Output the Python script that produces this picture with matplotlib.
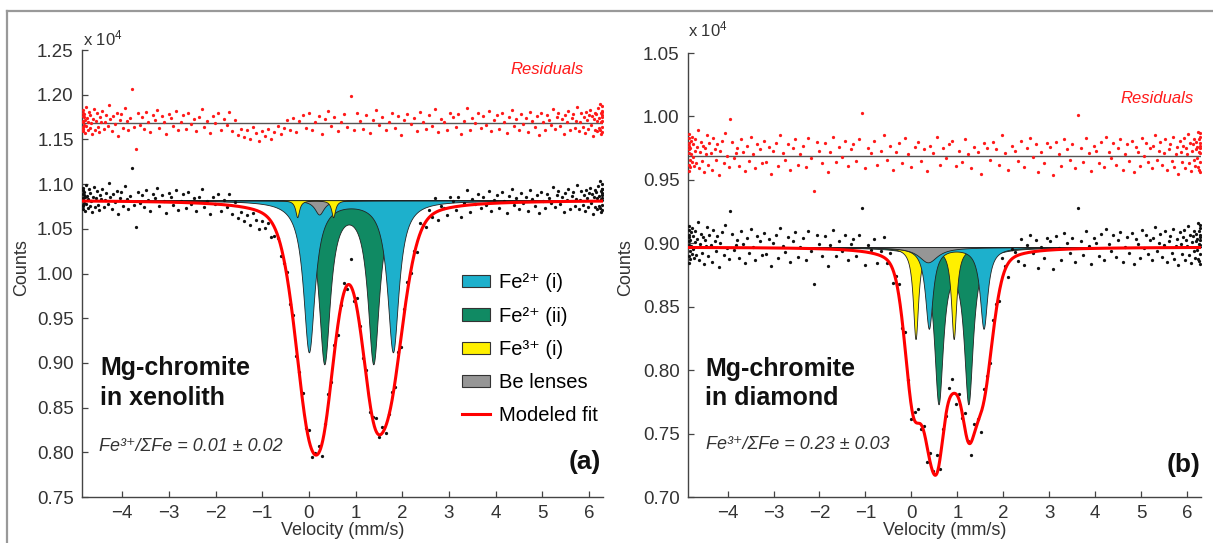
import numpy as np
import matplotlib.pyplot as plt
from matplotlib.patches import Patch
from matplotlib.lines import Line2D

plt.rcParams['font.family'] = ['Liberation Sans', 'DejaVu Sans']
plt.rcParams['mathtext.fontset'] = 'custom'
plt.rcParams['mathtext.rm'] = 'Liberation Sans'
plt.rcParams['mathtext.it'] = 'Liberation Sans:italic'
plt.rcParams['mathtext.bf'] = 'Liberation Sans:bold'

# velocity range of the drive (mm/s) and number of channels
v_lo, v_hi = -4.86, 6.30
n_chan = 256

# residuals (data - fit), in units of 0.001 x 10^4 counts, one per channel
res_a = [8, -4, 12, 3, -9, 15, 1, -6, 10, -2, 7, -11, 4, 18, -3, 6,
         -8, 2, 13, -5, 9, 0, -12, 5, 16, -7, 3, 11, -4, -10, 7, 2,
         14, -6, 1, 9, -3, 20, 5, -9, 8, -1, 12, -14, 4, 10, -5, 17,
         3, -8, 6, 38, -4, -29, 11, -2, 7, -6, 13, 2, -10, 9, 4, 15,
         -5, 8, 1, -12, 10, 6, -3, 14, -8, 2, 9, -6, 12, -1, 5, -9,
         7, 16, -4, 3, -11, 8, 0, 11, -7, 5, -2, 13, -9, 4, -13, -6,
         -15, -8, -18, -4, -11, -20, -9, -14, -6, -17, -10, -3, -12, -5, 4, -8,
         6, -10, 3, 9, -5, 11, -7, 2, 8, -12, 5, 14, -3, 7, -9, 1,
         10, -4, 30, -8, 12, 3, -6, 9, -11, 4, 15, -2, 7, -7, 2, 11,
         -5, 8, -13, 4, 10, -1, 6, -9, 13, 2, -6, 9, -3, 16, -10, 5,
         1, -7, 12, 7, -4, 10, -12, 3, 17, -8, 6, 0, 11, -5, 8, -2,
         14, -9, 4, 9, -6, 12, 2, -11, 7, 15, -3, 5, -8, 10, -1, 6,
         -10, 13, 3, -4, 8, -13, 11, 1, -7, 9, 4, -2, 16, -6, 7, 12,
         -3, 5, -12, 9, 2, 14, -8, 6, 10, -5, 3, 18, -9, 1, 11, -4,
         7, -11, 13, 4, -6, 9, 15, -2, 8, -14, 5, 12, -7, 10, 3, -9,
         17, -5, 6, 22, -8, 11, 2, -12, 14, 9, -4, 19, -10, 7, 13, 3]
res_b = [5, 14, -7, 10, 2, -12, 8, 17, -3, 6, -9, 12, 1, -5, 15, -1,
         9, -8, 4, 13, -6, 7, 20, -10, 3, 11, -4, 8, -13, 6, 1, 16,
         -7, 10, 2, -11, 14, 5, -3, 9, -15, 4, 12, -6, 18, 0, -9, 29,
         11, -2, 2, 6, -8, 13, 3, -12, 8, -4, 15, 1, -10, 9, 5, -6,
         12, -5, 7, -14, 4, 10, -8, 16, 2, -3, 9, -11, 6, 13, -7, 1,
         8, -9, 14, -2, -28, 11, 4, -6, 10, -13, 3, 15, -5, 7, -1, 12,
         -8, 5, 9, -4, 13, 34, -10, 6, 2, 12, -7, 4, 16, -3, 8, -11,
         3, 10, -6, 14, 1, -9, 7, 11, -4, 5, -12, 8, 2, 15, -7, 6,
         -2, 9, 12, -8, 4, -5, 13, 1, -10, 7, 3, -14, 10, 6, -3, 11,
         5, -7, 16, 2, -11, 8, 4, -4, 12, -9, 6, 14, -1, 9, -13, 3,
         -6, 10, 7, -15, 11, 1, -8, 13, 5, -3, 9, -10, 32, 6, -5, 14,
         2, -12, 8, 4, -6, 11, -9, 15, 3, -2, 10, -7, 6, 13, -11, 1,
         9, -4, 12, -13, 7, 3, -8, 14, 0, 10, -5, 6, -10, 8, 16, -3,
         4, 11, -7, 2, 13, -11, 5, 9, -4, 15, -9, 1, 7, -14, 12, 3,
         -5, 8, 14, -10, 6, 1, 17, -6, 10, -12, 4, 9, -3, 13, -8, 5,
         11, -2, 7, 19, -9, 13, 3, -11, 8, 15, -5, 10, -13, 6, 18, 2]

# baselines (x 10^4 counts)
base_a, resline_a = 1.082, 1.168
base_b, resline_b = 0.897, 0.969

# modeled fit lines: centre (mm/s), depth, FWHM
fit_a_pos = [-0.05, 0.32, 1.38, 1.78]
fit_a_depth = [0.174, 0.170, 0.174, 0.150]
fit_a_fwhm = [0.72, 0.68, 0.68, 0.72]
fit_b_pos = [0.04, 0.38, 0.58, 0.92, 1.24, 1.57]
fit_b_depth = [0.110, 0.072, 0.113, 0.060, 0.102, 0.098]
fit_b_fwhm = [0.45, 0.42, 0.42, 0.42, 0.40, 0.50]

# sub-spectra: centres, depth, half width
a_fe2i = ([0.00, 1.80], 0.169, 0.15)
a_fe2ii = ([0.33, 1.38], 0.180, 0.15)
a_fe3 = ([-0.25, 0.52], 0.019, 0.05)
a_be = ([0.22], 0.016, 0.12)
b_fe2i = ([0.38, 1.57], 0.064, 0.10)
b_fe2ii = ([0.59, 1.24], 0.120, 0.12)
b_fe3 = ([0.09, 0.92], 0.072, 0.07)
b_be = ([0.36], 0.012, 0.25)

c_fe2i = '#1DB0CC'
c_fe2ii = '#108A63'
c_fe3 = '#FFF000'
c_be = '#969696'


def lorentz(v, comp):
    pos, depth, hw = comp
    out = np.zeros_like(v)
    for c in pos:
        out += depth * hw**2 / (hw**2 + (v - c)**2)
    return out


def fit_curve(v, base, pos, depth, fwhm, eta=0.35):
    out = np.full_like(v, base)
    for c, d, w in zip(pos, depth, fwhm):
        x = v - c
        out -= d * (eta / (1 + (2 * x / w)**2) + (1 - eta) * np.exp(-4 * np.log(2) * x**2 / w**2))
    return out


theta = np.linspace(-np.pi / 2, np.pi / 2, n_chan)
v_chan = (v_lo + v_hi) / 2 + (v_hi - v_lo) / 2 * 0.998 * np.sin(theta)
v_fine = np.linspace(v_lo, v_hi, 3000)

fig = plt.figure(figsize=(12.13, 5.43), dpi=100)
W, H = 1213, 543
ax_a = fig.add_axes([82 / W, 1 - 497 / H, (603 - 82) / W, (497 - 50) / H])
ax_b = fig.add_axes([688 / W, 1 - 497 / H, (1201 - 688) / W, (497 - 53) / H])

panels = [
    (ax_a, res_a, base_a, resline_a, fit_a_pos, fit_a_depth, fit_a_fwhm,
     [(a_fe2ii, c_fe2ii), (a_fe2i, c_fe2i), (a_be, c_be), (a_fe3, c_fe3)],
     (0.75, 1.25)),
    (ax_b, res_b, base_b, resline_b, fit_b_pos, fit_b_depth, fit_b_fwhm,
     [(b_fe2ii, c_fe2ii), (b_fe3, c_fe3), (b_fe2i, c_fe2i), (b_be, c_be)],
     (0.70, 1.05)),
]

for ax, res, base, resline, fpos, fdep, fw, comps, ylim in panels:
    r = np.array(res) / 1000.0
    for comp, col in comps:
        ax.fill_between(v_fine, base, base - lorentz(v_fine, comp),
                        facecolor=col, edgecolor='#222222', lw=0.6, zorder=2)
    ax.axhline(resline, color='#555555', lw=1.0, zorder=2)
    ax.scatter(v_chan, resline + r, s=5.5, color='#FF1A1A', lw=0, zorder=3)
    ax.scatter(v_chan, fit_curve(v_chan, base, fpos, fdep, fw) + r, s=5.5,
               color='#111111', lw=0, zorder=3)
    ax.plot(v_fine, fit_curve(v_fine, base, fpos, fdep, fw), color='#FF0000',
            lw=2.2, zorder=4)

    ax.set_xlim(v_lo, v_hi)
    ax.set_ylim(*ylim)
    ax.set_xticks(range(-4, 7))
    ax.set_yticks(np.arange(ylim[0], ylim[1] + 0.001, 0.05))
    ax.yaxis.set_major_formatter(plt.FormatStrFormatter('%.2f'))
    for s in ['top', 'right']:
        ax.spines[s].set_visible(False)
    for s in ['left', 'bottom']:
        ax.spines[s].set_color('#444444')
        ax.spines[s].set_linewidth(1.0)
    ax.tick_params(direction='in', length=4, width=0.9, color='#444444',
                   labelsize=13.5, labelcolor='#333333', pad=6)
    ax.set_xlabel('Velocity (mm/s)', fontsize=13, color='#333333', labelpad=0)

# panel (a) annotations
ax_a.text(-4.47, 0.894, 'Mg-chromite', fontsize=18, fontweight='bold', va='center', color='#111111')
ax_a.text(-4.47, 0.861, 'in xenolith', fontsize=18, fontweight='bold', va='center', color='#111111')
ax_a.text(-4.5, 0.807, 'Fe³⁺/ΣFe = 0.01 ± 0.02', fontsize=13,
          style='italic', va='center', color='#333333')
ax_a.text(6.25, 0.789, '(a)', fontsize=19, fontweight='bold', ha='right', va='center', color='#111111')
ax_a.text(5.1, 1.228, 'Residuals', fontsize=12, style='italic', color='#FF1A1A', ha='center', va='center')

handles = [Patch(facecolor=c_fe2i, edgecolor='#333333', lw=0.8),
           Patch(facecolor=c_fe2ii, edgecolor='#333333', lw=0.8),
           Patch(facecolor=c_fe3, edgecolor='#333333', lw=0.8),
           Patch(facecolor=c_be, edgecolor='#333333', lw=0.8),
           Line2D([0], [0], color='#FF0000', lw=2.2)]
labels = ['Fe²⁺ (i)', 'Fe²⁺ (ii)', 'Fe³⁺ (i)', 'Be lenses', 'Modeled fit']
ax_a.legend(handles, labels, loc='upper left', bbox_to_anchor=(0.729, 0.50),
            frameon=False, fontsize=14.5, handlelength=1.4, handleheight=0.55,
            handletextpad=0.45, labelspacing=0.7, borderaxespad=0, borderpad=0)

# panel (b) annotations
ax_b.text(-4.49, 0.801, 'Mg-chromite', fontsize=18, fontweight='bold', va='center', color='#111111')
ax_b.text(-4.49, 0.778, 'in diamond', fontsize=18, fontweight='bold', va='center', color='#111111')
ax_b.text(-4.46, 0.741, 'Fe³⁺/ΣFe = 0.23 ± 0.03', fontsize=13,
          style='italic', va='center', color='#333333')
ax_b.text(6.28, 0.725, '(b)', fontsize=19, fontweight='bold', ha='right', va='center', color='#111111')
ax_b.text(5.34, 1.0145, 'Residuals', fontsize=12, style='italic', color='#FF1A1A', ha='center', va='center')

# y labels and scale factors
fig.text(22 / W, 1 - 268 / H, 'Counts', rotation=90, fontsize=13, color='#333333', ha='center', va='center')
fig.text(626 / W, 1 - 268 / H, 'Counts', rotation=90, fontsize=13, color='#333333', ha='center', va='center')
fig.text(83 / W, 1 - 38 / H, 'x 10$^4$', fontsize=12, color='#333333', va='center')
fig.text(688 / W, 1 - 29 / H, 'x 10$^4$', fontsize=12, color='#333333', va='center')

# outer frame
fig.add_artist(Line2D([7 / W, 1], [1 - 11 / H] * 2, transform=fig.transFigure, color='#999999', lw=1.6))
fig.add_artist(Line2D([7 / W] * 2, [0, 1 - 11 / H], transform=fig.transFigure, color='#999999', lw=1.6))

fig.savefig('out.png', dpi=100)
